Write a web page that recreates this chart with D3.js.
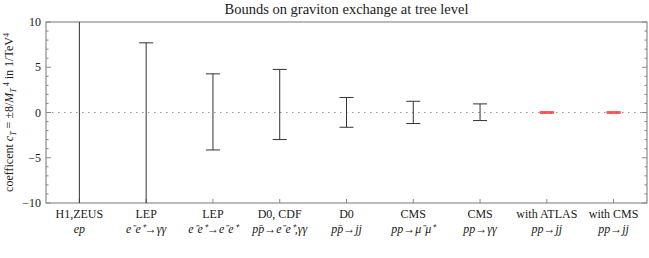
<!DOCTYPE html>
<html>
<head>
<meta charset="utf-8">
<script src="https://cdn.jsdelivr.net/npm/d3@7"></script>
<style>
  body { margin: 0; background: #fff; }
  svg text { font-family: "Liberation Serif", "Times New Roman", serif; fill: #1a1a1a; }
</style>
</head>
<body>
<svg id="chart" width="649" height="258" font-family="Liberation Serif, serif"></svg>
<script>
// experiments (two label lines each)
const experiments = ["H1,ZEUS", "LEP", "LEP", "D0, CDF", "D0", "CMS", "CMS", "with ATLAS", "with CMS"];
const processes = ["ep", "e⁻e⁺→γγ", "e⁻e⁺→e⁻e⁺", "pp̄→e⁻e⁺,γγ", "pp̄→jj", "pp→μ⁻μ⁺", "pp→γγ", "pp→jj", "pp→jj"];
// bounds on c_T in 1/TeV^4 (values outside +-10 are cut by the frame)
const upper = [12, 7.7, 4.27, 4.76, 1.66, 1.24, 0.95, 0.04, 0.04];
const lower = [-12, -12, -4.14, -2.99, -1.63, -1.22, -0.89, -0.04, -0.04];
const highlight = [false, false, false, false, false, false, false, true, true];
const yTicks = [-10, -5, 0, 5, 10];

const svg = d3.select("#chart"),
    margin = {top: 22, right: 2, bottom: 55, left: 46},
    W = +svg.attr("width"), H = +svg.attr("height");

const x = d3.scaleBand()
    .domain(d3.range(experiments.length))
    .range([margin.left, W - margin.right]);

const y = d3.scaleLinear()
    .domain([-10, 10])
    .range([H - margin.bottom, margin.top]);

const x0 = margin.left, x1 = W - margin.right;
const y0 = y(-10), y1 = y(10);

svg.append("defs").append("clipPath").attr("id", "plotclip")
  .append("rect").attr("x", x0).attr("y", y1).attr("width", x1 - x0).attr("height", y0 - y1);

// title
svg.append("text")
    .attr("x", (x0 + x1) / 2)
    .attr("y", 14)
    .attr("text-anchor", "middle")
    .attr("font-size", 14.5)
    .text("Bounds on graviton exchange at tree level");

// zero line
svg.append("line")
    .attr("x1", x0).attr("x2", x1)
    .attr("y1", y(0)).attr("y2", y(0))
    .attr("stroke", "#999").attr("stroke-width", 1)
    .attr("stroke-dasharray", "1.5,4.5");

// frame
svg.append("rect")
    .attr("x", x0).attr("y", y1)
    .attr("width", x1 - x0).attr("height", y0 - y1)
    .attr("fill", "none").attr("stroke", "#777").attr("stroke-width", 1);

// left / right ticks (inward)
const minor = d3.range(-10, 11, 1);
minor.forEach(v => {
  const major = v % 5 === 0;
  const len = major ? 5 : 2.5;
  svg.append("line").attr("x1", x0).attr("x2", x0 + len)
      .attr("y1", y(v)).attr("y2", y(v)).attr("stroke", "#888");
  svg.append("line").attr("x1", x1).attr("x2", x1 - len)
      .attr("y1", y(v)).attr("y2", y(v)).attr("stroke", "#888");
});

svg.selectAll(".ylab")
  .data(yTicks)
  .enter().append("text")
    .attr("class", "ylab")
    .attr("x", x0 - 5)
    .attr("y", d => y(d) + 4)
    .attr("text-anchor", "end")
    .attr("font-size", 12)
    .text(d => d < 0 ? "\u2212" + (-d) : d);

// bottom ticks at category centres
experiments.forEach((e, i) => {
  const cx = x(i) + x.bandwidth() / 2;
  svg.append("line").attr("x1", cx).attr("x2", cx)
      .attr("y1", y0).attr("y2", y0 - 4).attr("stroke", "#888");
  svg.append("text")
      .attr("x", cx).attr("y", y0 + 15)
      .attr("text-anchor", "middle")
      .attr("font-size", 12)
      .text(e);
  svg.append("text")
      .attr("x", cx).attr("y", y0 + 30)
      .attr("text-anchor", "middle")
      .attr("font-size", 12)
      .attr("font-style", "italic")
      .text(processes[i]);
});

// y axis label
const ylab = svg.append("text")
    .attr("transform", "translate(13," + ((y0 + y1) / 2) + ") rotate(-90)")
    .attr("text-anchor", "middle")
    .attr("font-size", 12);
ylab.append("tspan").text("coefficent ");
ylab.append("tspan").attr("font-style", "italic").text("c");
ylab.append("tspan").attr("font-style", "italic").attr("font-size", 8).attr("dy", 3).text("T");
ylab.append("tspan").attr("dy", -3).text(" = \u00b18/");
ylab.append("tspan").attr("font-style", "italic").text("M");
ylab.append("tspan").attr("font-style", "italic").attr("font-size", 8).attr("dy", 3).text("T");
ylab.append("tspan").attr("font-size", 8).attr("dy", -7).text(" 4");
ylab.append("tspan").attr("dy", 4).text(" in 1/TeV");
ylab.append("tspan").attr("font-size", 8).attr("dy", -4).text("4");

// error bars
const bars = svg.append("g").attr("clip-path", "url(#plotclip)");
const cap = 7;
experiments.forEach((e, i) => {
  const cx = x(i) + x.bandwidth() / 2;
  const col = highlight[i] ? "#ff3030" : "#333";
  const sw = highlight[i] ? 2.2 : 1;
  const g = bars.append("g").attr("stroke", col).attr("stroke-width", sw)
      .attr("opacity", highlight[i] ? 0.8 : 1);
  g.append("line").attr("x1", cx).attr("x2", cx)
      .attr("y1", y(lower[i])).attr("y2", y(upper[i]));
  g.append("line").attr("x1", cx - cap).attr("x2", cx + cap)
      .attr("y1", y(upper[i])).attr("y2", y(upper[i]));
  g.append("line").attr("x1", cx - cap).attr("x2", cx + cap)
      .attr("y1", y(lower[i])).attr("y2", y(lower[i]));
});
</script>
</body>
</html>
